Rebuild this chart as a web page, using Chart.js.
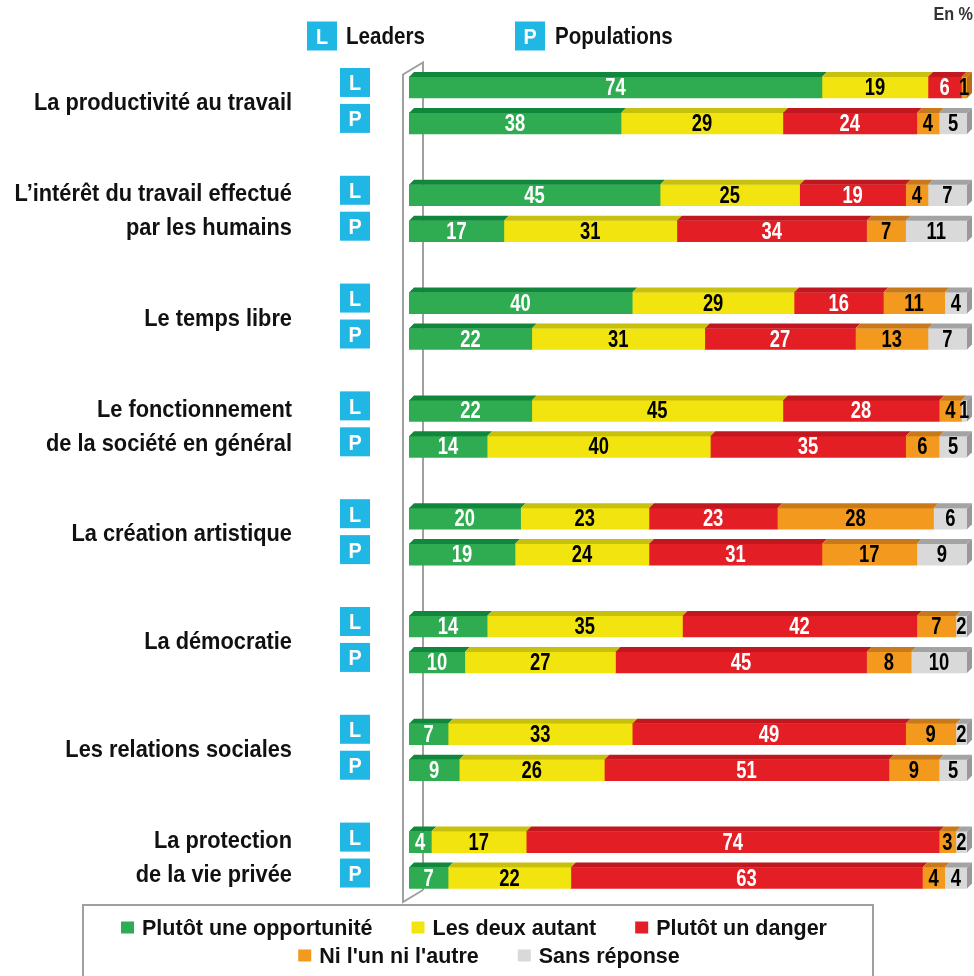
<!DOCTYPE html>
<html>
<head>
<meta charset="utf-8">
<script src="https://cdn.jsdelivr.net/npm/chart.js@4"></script>
<style>
  body { margin: 0; background: #fff; }
  #wrap { width: 974px; height: 976px; }
</style>
</head>
<body>
<div id="wrap"><canvas id="myChart" width="974" height="976"></canvas></div>
<script>
const themes = [
  ['La productivité au travail'],
  ['L\u2019intérêt du travail effectué', 'par les humains'],
  ['Le temps libre'],
  ['Le fonctionnement', 'de la société en général'],
  ['La création artistique'],
  ['La démocratie'],
  ['Les relations sociales'],
  ['La protection', 'de la vie privée']
]
const groups = ['Leaders', 'Populations']
const badges = ['L', 'P']
const seriesNames = ['Plutôt une opportunité', 'Les deux autant', 'Plutôt un danger', "Ni l'un ni l'autre", 'Sans réponse']

// values, one array per answer and per group
const opportuniteL = [74, 45, 40, 22, 20, 14, 7, 4]
const opportuniteP = [38, 17, 22, 14, 19, 10, 9, 7]
const deuxAutantL = [19, 25, 29, 45, 23, 35, 33, 17]
const deuxAutantP = [29, 31, 31, 40, 24, 27, 26, 22]
const dangerL = [6, 19, 16, 28, 23, 42, 49, 74]
const dangerP = [24, 34, 27, 35, 31, 45, 51, 63]
const niL = [1, 4, 11, 4, 28, 7, 9, 3]
const niP = [4, 7, 13, 6, 17, 8, 9, 4]
const sansReponseL = [null, 7, 4, 1, 6, 2, 2, 2]
const sansReponseP = [5, 11, 7, 5, 9, 10, 5, 4]

const frontColors = ['#2fab52', '#f2e50f', '#e31e25', '#f39a1e', '#d9d9d9']
const topColors = ['#10873b', '#c7c00c', '#c0181e', '#c7791b', '#a3a3a3']
const sideColors = ['#10873b', '#b8b00a', '#b0161c', '#b86d17', '#999999']
const labelColors = ['#fff', '#000', '#fff', '#000', '#000']
const badgeColor = '#21b7e5'
const family = "'Liberation Sans', Arial, sans-serif"

const seriesL = [opportuniteL, deuxAutantL, dangerL, niL, sansReponseL]
const seriesP = [opportuniteP, deuxAutantP, dangerP, niP, sansReponseP]

// rows: L, P, then an empty spacer between themes
let rowLabels = []
let rowTheme = []
themes.forEach((t, i) => {
    rowLabels.push('L', 'P')
    rowTheme.push(i, i)
    if (i < themes.length - 1) {
        rowLabels.push('')
        rowTheme.push(-1)
    }
})

const datasets = seriesNames.map((name, s) => {
    let data = []
    themes.forEach((t, i) => {
        data.push(seriesL[s][i], seriesP[s][i])
        if (i < themes.length - 1) data.push(null)
    })
    return {
        label: name,
        data: data,
        backgroundColor: frontColors[s],
        borderWidth: 0,
        barThickness: 21
    }
})

const dx = 5
const dy = 5

// condensed bold text (no narrow font installed, so squeeze it)
function drawText(ctx, text, x, y, size, align, sx, color) {
    ctx.save()
    ctx.font = 'bold ' + size + 'px ' + family
    ctx.textAlign = align
    ctx.textBaseline = 'alphabetic'
    ctx.fillStyle = color
    ctx.translate(x, y)
    ctx.scale(sx, 1)
    ctx.fillText(text, 0, 0)
    ctx.restore()
}

const bars3d = {
    id: 'bars3d',
    beforeDatasetsDraw(chart) {
        const ctx = chart.ctx
        const ca = chart.chartArea
        const fx = ca.left - 6
        const bx = ca.left + 14
        const bTop = ca.top - 7
        const bBot = ca.bottom - 6
        ctx.save()
        ctx.strokeStyle = '#a0a0a0'
        ctx.lineWidth = 2
        ctx.beginPath()
        ctx.moveTo(bx, bBot)
        ctx.lineTo(bx, bTop)
        ctx.lineTo(fx, bTop + 12)
        ctx.lineTo(fx, bBot + 12)
        ctx.lineTo(bx, bBot)
        ctx.stroke()
        ctx.restore()
    },
    afterDatasetsDraw(chart) {
        const ctx = chart.ctx
        ctx.save()
        const n = chart.data.labels.length
        for (let i = 0; i < n; i++) {
            let last = null
            chart.data.datasets.forEach((ds, d) => {
                const v = ds.data[i]
                if (!v) return
                const el = chart.getDatasetMeta(d).data[i]
                const top = el.y - el.height / 2
                ctx.fillStyle = topColors[d]
                ctx.beginPath()
                ctx.moveTo(el.base, top)
                ctx.lineTo(el.base + dx, top - dy)
                ctx.lineTo(el.x + dx, top - dy)
                ctx.lineTo(el.x, top)
                ctx.closePath()
                ctx.fill()
                last = { el: el, d: d }
            })
            if (last) {
                const el = last.el
                const top = el.y - el.height / 2
                const bot = el.y + el.height / 2
                ctx.fillStyle = sideColors[last.d]
                ctx.beginPath()
                ctx.moveTo(el.x, top)
                ctx.lineTo(el.x + dx, top - dy)
                ctx.lineTo(el.x + dx, bot - dy)
                ctx.lineTo(el.x, bot)
                ctx.closePath()
                ctx.fill()
            }
        }
        ctx.restore()
        // value labels
        chart.data.datasets.forEach((ds, d) => {
            chart.getDatasetMeta(d).data.forEach((el, i) => {
                const v = ds.data[i]
                if (!v) return
                drawText(ctx, String(v), (el.x + el.base) / 2, el.y + 7.5, 23, 'center', 0.8, labelColors[d])
            })
        })
    },
    afterDraw(chart) {
        const ctx = chart.ctx
        const ys = chart.scales.y
        const badge = (x, yc, letter) => {
            ctx.fillStyle = badgeColor
            ctx.fillRect(x, yc - 14.5, 30, 29)
            drawText(ctx, letter, x + 15, yc + 8, 22, 'center', 0.9, '#fff')
        }
        // row badges and theme names
        themes.forEach((t, i) => {
            const idx = rowTheme.indexOf(i)
            const yL = ys.getPixelForValue(idx)
            const yP = ys.getPixelForValue(idx + 1)
            badge(340, yL - 5, badges[0])
            badge(340, yP - 5, badges[1])
            if (t.length === 1) {
                drawText(ctx, t[0], 292, (yL + yP) / 2 + 4.5, 24.5, 'right', 0.89, '#111')
            } else {
                drawText(ctx, t[0], 292, yL + 6, 24.5, 'right', 0.89, '#111')
                drawText(ctx, t[1], 292, yP + 4, 24.5, 'right', 0.89, '#111')
            }
        })
        // top legend
        badge(307, 36, badges[0])
        badge(515, 36, badges[1])
        drawText(ctx, groups[0], 346, 44, 24.5, 'left', 0.84, '#111')
        drawText(ctx, groups[1], 555, 44, 24.5, 'left', 0.84, '#111')
        drawText(ctx, 'En %', 973, 20, 18, 'right', 0.9, '#333')

        // bottom legend box
        const boxL = 83, boxR = 873, boxT = 905
        ctx.save()
        ctx.strokeStyle = '#a0a0a0'
        ctx.lineWidth = 2
        ctx.strokeRect(boxL, boxT, boxR - boxL, 100)
        ctx.restore()
        const lines = [[0, 1, 2], [3, 4]]
        const lineY = [927.5, 955.5]
        const lineShift = [-4, 11]
        const cx = (boxL + boxR) / 2
        const sx = 1.0
        ctx.save()
        ctx.font = 'bold 21.5px ' + family
        const widths = seriesNames.map(s => 21 + ctx.measureText(s).width * sx)
        ctx.restore()
        lines.forEach((items, li) => {
            const gap = 39
            const total = items.reduce((a, s) => a + widths[s], 0) + gap * (items.length - 1)
            let x = cx - total / 2 + lineShift[li]
            items.forEach(s => {
                ctx.fillStyle = frontColors[s]
                ctx.fillRect(x, lineY[li] - 6, 13, 12)
                drawText(ctx, seriesNames[s], x + 21, lineY[li] + 7, 21.5, 'left', sx, '#111')
                x += widths[s] + gap
            })
        })
    }
}

const myChart = new Chart(document.getElementById('myChart'), {
    type: 'bar',
    data: { labels: rowLabels, datasets: datasets },
    options: {
        indexAxis: 'y',
        responsive: false,
        animation: false,
        devicePixelRatio: 1,
        layout: { padding: { left: 409, right: 7, top: 69.5, bottom: 80 } },
        plugins: { legend: { display: false }, tooltip: { enabled: false } },
        scales: {
            x: { stacked: true, min: 0, max: 100, display: false },
            y: { stacked: true, display: false }
        }
    },
    plugins: [bars3d]
})
</script>
</body>
</html>
